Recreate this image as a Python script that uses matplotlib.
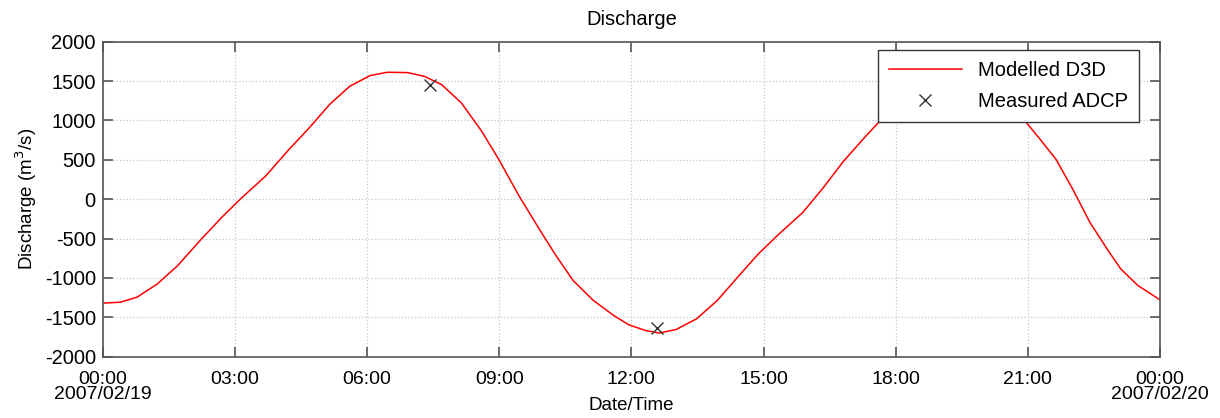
import numpy as np
import pandas as pd
import matplotlib
matplotlib.use('Agg')
import matplotlib.pyplot as plt

plt.rcParams['font.family'] = ['Liberation Sans', 'DejaVu Sans']
plt.rcParams['axes.unicode_minus'] = False

# Modelled discharge (hours after 2007/02/19 00:00, m3/s)
model_hours = [0.0, 0.40, 0.78, 1.24, 1.70, 2.24, 2.70, 3.16, 3.70, 4.23, 4.69, 5.15,
               5.61, 6.07, 6.46, 6.92, 7.30, 7.69, 8.14, 8.60, 8.99, 9.45, 9.91,
               10.29, 10.68, 11.14, 11.60, 11.94, 12.32, 12.63, 13.02, 13.48, 13.95,
               14.41, 14.88, 15.35, 15.89, 16.36, 16.82, 17.29, 17.71, 18.0, 18.5,
               19.0, 19.5, 20.0, 20.5, 20.94, 21.25, 21.64, 22.02, 22.41, 22.80,
               23.11, 23.50, 24.0]
model_q = [-1320, -1308, -1244, -1076, -844, -506, -232, 21, 295, 633, 907, 1203,
           1435, 1570, 1612, 1608, 1561, 1456, 1224, 865, 506, 42, -380,
           -717, -1034, -1287, -1477, -1595, -1667, -1700, -1654, -1519, -1287,
           -992, -696, -443, -169, 148, 485, 781, 1034, 1130, 1240,
           1290, 1295, 1250, 1150, 991, 781, 506, 127, -295, -633,
           -886, -1097, -1278]

# Measured ADCP points
adcp_hours = [7.43, 12.59]
adcp_q = [1456, -1637]

tick_hours = [0, 3, 6, 9, 12, 15, 18, 21, 24]
tick_labels = ['00:00\n2007/02/19', '03:00', '06:00', '09:00', '12:00',
               '15:00', '18:00', '21:00', '00:00\n2007/02/20']

start = pd.Timestamp('2007-02-19 00:00')
to_time = lambda h: start + pd.to_timedelta(np.array(h, dtype=float), unit='h')

fig = plt.figure(figsize=(12.2, 4.18), dpi=100)
ax = fig.add_axes([0.0842, 0.1467, 0.8666, 0.7535])

ax.plot(to_time(model_hours), model_q, color='#ff0000', linewidth=1.1, label='Modelled D3D')
ax.plot(to_time(adcp_hours), adcp_q, linestyle='none', marker='x', color='#333333',
        markersize=8, markeredgewidth=1.0, label='Measured ADCP')

ax.set_xlim(to_time([0])[0], to_time([24])[0])
ax.set_ylim(-2000, 2000)
ax.set_yticks(np.arange(-2000, 2001, 500))
ax.set_xticks(to_time(tick_hours))
ax.set_xticklabels(tick_labels, fontsize=14, multialignment='center', linespacing=0.9)
ax.tick_params(axis='y', labelsize=14.5, pad=5)
ax.tick_params(axis='x', pad=10)
ax.tick_params(direction='in', length=7, width=1.2, color='#555555',
               top=True, right=True)

for s in ax.spines.values():
    s.set_color('#555555')
    s.set_linewidth(1.2)

ax.grid(True, linestyle=':', color='#c8c8c8', linewidth=0.9)
ax.set_axisbelow(True)

ax.set_title('Discharge', fontsize=14.5, pad=12)
ax.set_xlabel('Date/Time', fontsize=13.5, va='center')
ax.xaxis.set_label_coords(0.5, -0.155)
ax.set_ylabel('Discharge (m$^3$/s)', fontsize=13.5, labelpad=4)

leg = ax.legend(loc='upper right', bbox_to_anchor=(0.980, 0.974), fontsize=14.5,
                fancybox=False, framealpha=1, edgecolor='#333333', borderaxespad=0,
                handlelength=3.6, borderpad=0.55, labelspacing=0.6)
leg.get_frame().set_linewidth(1.0)

plt.savefig('out.png', dpi=100)
